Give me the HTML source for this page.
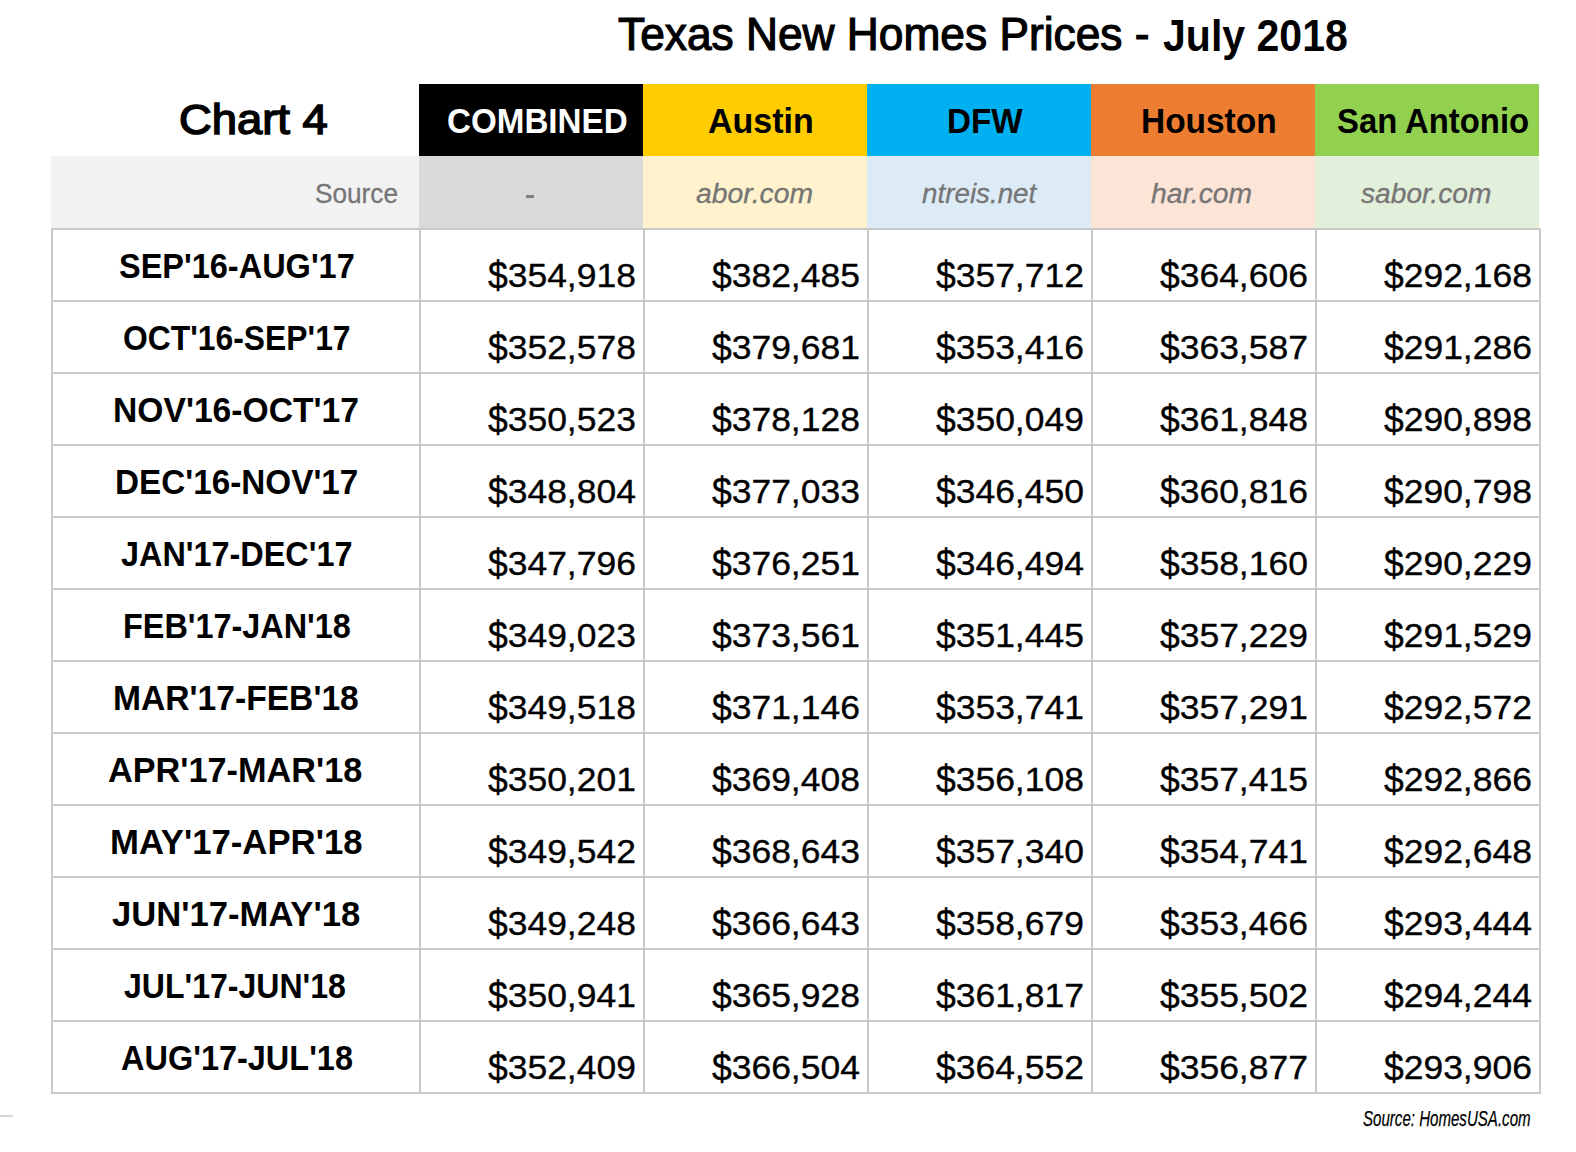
<!DOCTYPE html>
<html><head><meta charset="utf-8"><style>
html,body{margin:0;padding:0;background:#fff}
body{width:1576px;height:1152px;position:relative;overflow:hidden;font-family:"Liberation Sans",sans-serif}
.r{position:absolute}
.t{position:absolute;line-height:1;white-space:nowrap;transform-origin:0 0}
.d{display:inline-block;transform:translateY(1.1px) scaleY(1.148);transform-origin:50% 22px}
</style></head><body>
<div class="r" style="left:419px;top:84px;width:224px;height:72px;background:#000000"></div>
<div class="r" style="left:643px;top:84px;width:224px;height:72px;background:#ffcc00"></div>
<div class="r" style="left:867px;top:84px;width:224px;height:72px;background:#00b0f0"></div>
<div class="r" style="left:1091px;top:84px;width:224px;height:72px;background:#ed7d31"></div>
<div class="r" style="left:1315px;top:84px;width:224px;height:72px;background:#92d050"></div>
<div class="r" style="left:51px;top:156px;width:368px;height:72px;background:#f2f2f2"></div>
<div class="r" style="left:419px;top:156px;width:224px;height:72px;background:#d9d9d9"></div>
<div class="r" style="left:643px;top:156px;width:224px;height:72px;background:#fff2cc"></div>
<div class="r" style="left:867px;top:156px;width:224px;height:72px;background:#ddebf7"></div>
<div class="r" style="left:1091px;top:156px;width:224px;height:72px;background:#fce4d6"></div>
<div class="r" style="left:1315px;top:156px;width:224px;height:72px;background:#e2efda"></div>
<div class="r" style="left:0;top:1115px;width:13px;height:2px;background:#d6d6d6"></div>
<div class="r" style="left:51px;top:228px;width:1490px;height:2px;background:#c9c9c9"></div>
<div class="r" style="left:51px;top:300px;width:1490px;height:2px;background:#c9c9c9"></div>
<div class="r" style="left:51px;top:372px;width:1490px;height:2px;background:#c9c9c9"></div>
<div class="r" style="left:51px;top:444px;width:1490px;height:2px;background:#c9c9c9"></div>
<div class="r" style="left:51px;top:516px;width:1490px;height:2px;background:#c9c9c9"></div>
<div class="r" style="left:51px;top:588px;width:1490px;height:2px;background:#c9c9c9"></div>
<div class="r" style="left:51px;top:660px;width:1490px;height:2px;background:#c9c9c9"></div>
<div class="r" style="left:51px;top:732px;width:1490px;height:2px;background:#c9c9c9"></div>
<div class="r" style="left:51px;top:804px;width:1490px;height:2px;background:#c9c9c9"></div>
<div class="r" style="left:51px;top:876px;width:1490px;height:2px;background:#c9c9c9"></div>
<div class="r" style="left:51px;top:948px;width:1490px;height:2px;background:#c9c9c9"></div>
<div class="r" style="left:51px;top:1020px;width:1490px;height:2px;background:#c9c9c9"></div>
<div class="r" style="left:51px;top:1092px;width:1490px;height:2px;background:#c9c9c9"></div>
<div class="r" style="left:51px;top:228px;width:2px;height:866px;background:#c9c9c9"></div>
<div class="r" style="left:419px;top:228px;width:2px;height:866px;background:#c9c9c9"></div>
<div class="r" style="left:643px;top:228px;width:2px;height:866px;background:#c9c9c9"></div>
<div class="r" style="left:867px;top:228px;width:2px;height:866px;background:#c9c9c9"></div>
<div class="r" style="left:1091px;top:228px;width:2px;height:866px;background:#c9c9c9"></div>
<div class="r" style="left:1315px;top:228px;width:2px;height:866px;background:#c9c9c9"></div>
<div class="r" style="left:1539px;top:228px;width:2px;height:866px;background:#c9c9c9"></div>
<div class="t" style="left:617.71px;top:11.85px;font-size:45.439px;transform:scaleX(0.9749);color:#000;-webkit-text-stroke:1.20px #000">Texas New Homes Prices -</div>
<div class="t" style="left:1163.30px;top:13.65px;font-size:44.142px;transform:scaleX(0.9303);color:#000;font-weight:bold">July 2018</div>
<div class="t" style="left:179.21px;top:98.75px;font-size:42.494px;transform:scaleX(1.0679);color:#000;-webkit-text-stroke:1.50px #000">Chart 4</div>
<div class="t" style="left:446.78px;top:103.40px;font-size:35.000px;transform:scaleX(0.9477);color:#fff;font-weight:bold">COMBINED</div>
<div class="t" style="left:708.03px;top:103.40px;font-size:35.000px;transform:scaleX(0.9721);color:#000;font-weight:bold">Austin</div>
<div class="t" style="left:946.96px;top:103.40px;font-size:35.000px;transform:scaleX(0.9502);color:#000;font-weight:bold">DFW</div>
<div class="t" style="left:1140.85px;top:103.40px;font-size:35.000px;transform:scaleX(0.9556);color:#000;font-weight:bold">Houston</div>
<div class="t" style="left:1337.16px;top:103.40px;font-size:35.000px;transform:scaleX(0.9378);color:#000;font-weight:bold">San Antonio</div>
<div class="t" style="left:314.73px;top:181.40px;font-size:26.963px;transform:scaleX(0.9713);color:#767676;-webkit-text-stroke:0.30px #767676">Source</div>
<div class="t" style="left:695.50px;top:179.95px;font-size:28.136px;transform:scaleX(1.0087);color:#767676;font-style:italic;-webkit-text-stroke:0.30px #767676">abor.com</div>
<div class="t" style="left:921.55px;top:179.95px;font-size:28.136px;transform:scaleX(0.9880);color:#767676;font-style:italic;-webkit-text-stroke:0.30px #767676">ntreis.net</div>
<div class="t" style="left:1151.45px;top:179.95px;font-size:28.136px;transform:scaleX(1.0055);color:#767676;font-style:italic;-webkit-text-stroke:0.30px #767676">har.com</div>
<div class="t" style="left:1360.70px;top:179.95px;font-size:28.136px;transform:scaleX(1.0008);color:#767676;font-style:italic;-webkit-text-stroke:0.30px #767676">sabor.com</div>
<div class="t" style="left:1362.67px;top:1106.70px;font-size:22.796px;transform:scaleX(0.6618);color:#000;font-style:italic;-webkit-text-stroke:0.25px #000">Source: HomesUSA.com</div>
<div class="r" style="left:526px;top:195px;width:8px;height:3px;background:#7e7e7e"></div>
<div class="t" style="left:118.97px;top:248.55px;font-size:34.783px;transform:scaleX(0.9345);color:#000;font-weight:bold">SEP&#39;16-AUG&#39;17</div>
<div class="t" style="left:122.63px;top:320.55px;font-size:34.783px;transform:scaleX(0.9162);color:#000;font-weight:bold">OCT&#39;16-SEP&#39;17</div>
<div class="t" style="left:112.92px;top:392.55px;font-size:34.783px;transform:scaleX(0.9674);color:#000;font-weight:bold">NOV&#39;16-OCT&#39;17</div>
<div class="t" style="left:114.75px;top:464.55px;font-size:34.783px;transform:scaleX(0.9573);color:#000;font-weight:bold">DEC&#39;16-NOV&#39;17</div>
<div class="t" style="left:120.53px;top:536.55px;font-size:34.783px;transform:scaleX(0.9320);color:#000;font-weight:bold">JAN&#39;17-DEC&#39;17</div>
<div class="t" style="left:122.80px;top:608.55px;font-size:34.783px;transform:scaleX(0.9314);color:#000;font-weight:bold">FEB&#39;17-JAN&#39;18</div>
<div class="t" style="left:112.92px;top:680.55px;font-size:34.783px;transform:scaleX(0.9671);color:#000;font-weight:bold">MAR&#39;17-FEB&#39;18</div>
<div class="t" style="left:108.21px;top:752.55px;font-size:34.783px;transform:scaleX(0.9856);color:#000;font-weight:bold">APR&#39;17-MAR&#39;18</div>
<div class="t" style="left:110.15px;top:824.55px;font-size:34.783px;transform:scaleX(0.9984);color:#000;font-weight:bold">MAY&#39;17-APR&#39;18</div>
<div class="t" style="left:112.30px;top:896.55px;font-size:34.783px;transform:scaleX(0.9964);color:#000;font-weight:bold">JUN&#39;17-MAY&#39;18</div>
<div class="t" style="left:124.44px;top:968.55px;font-size:34.783px;transform:scaleX(0.9218);color:#000;font-weight:bold">JUL&#39;17-JUN&#39;18</div>
<div class="t" style="left:120.57px;top:1040.55px;font-size:34.783px;transform:scaleX(0.9340);color:#000;font-weight:bold">AUG&#39;17-JUL&#39;18</div>
<div class="t" style="left:488.04px;top:258.30px;font-size:34.141px;transform:scaleX(1.0387);color:#000;-webkit-text-stroke:0.35px #000"><span class="d">$</span>354,918</div>
<div class="t" style="left:712.04px;top:258.30px;font-size:34.141px;transform:scaleX(1.0387);color:#000;-webkit-text-stroke:0.35px #000"><span class="d">$</span>382,485</div>
<div class="t" style="left:936.04px;top:258.30px;font-size:34.141px;transform:scaleX(1.0387);color:#000;-webkit-text-stroke:0.35px #000"><span class="d">$</span>357,712</div>
<div class="t" style="left:1160.04px;top:258.30px;font-size:34.141px;transform:scaleX(1.0387);color:#000;-webkit-text-stroke:0.35px #000"><span class="d">$</span>364,606</div>
<div class="t" style="left:1384.04px;top:258.30px;font-size:34.141px;transform:scaleX(1.0387);color:#000;-webkit-text-stroke:0.35px #000"><span class="d">$</span>292,168</div>
<div class="t" style="left:488.04px;top:330.30px;font-size:34.141px;transform:scaleX(1.0387);color:#000;-webkit-text-stroke:0.35px #000"><span class="d">$</span>352,578</div>
<div class="t" style="left:712.04px;top:330.30px;font-size:34.141px;transform:scaleX(1.0387);color:#000;-webkit-text-stroke:0.35px #000"><span class="d">$</span>379,681</div>
<div class="t" style="left:936.04px;top:330.30px;font-size:34.141px;transform:scaleX(1.0387);color:#000;-webkit-text-stroke:0.35px #000"><span class="d">$</span>353,416</div>
<div class="t" style="left:1160.04px;top:330.30px;font-size:34.141px;transform:scaleX(1.0387);color:#000;-webkit-text-stroke:0.35px #000"><span class="d">$</span>363,587</div>
<div class="t" style="left:1384.04px;top:330.30px;font-size:34.141px;transform:scaleX(1.0387);color:#000;-webkit-text-stroke:0.35px #000"><span class="d">$</span>291,286</div>
<div class="t" style="left:488.04px;top:402.30px;font-size:34.141px;transform:scaleX(1.0387);color:#000;-webkit-text-stroke:0.35px #000"><span class="d">$</span>350,523</div>
<div class="t" style="left:712.04px;top:402.30px;font-size:34.141px;transform:scaleX(1.0387);color:#000;-webkit-text-stroke:0.35px #000"><span class="d">$</span>378,128</div>
<div class="t" style="left:936.04px;top:402.30px;font-size:34.141px;transform:scaleX(1.0387);color:#000;-webkit-text-stroke:0.35px #000"><span class="d">$</span>350,049</div>
<div class="t" style="left:1160.04px;top:402.30px;font-size:34.141px;transform:scaleX(1.0387);color:#000;-webkit-text-stroke:0.35px #000"><span class="d">$</span>361,848</div>
<div class="t" style="left:1384.04px;top:402.30px;font-size:34.141px;transform:scaleX(1.0387);color:#000;-webkit-text-stroke:0.35px #000"><span class="d">$</span>290,898</div>
<div class="t" style="left:488.04px;top:474.30px;font-size:34.141px;transform:scaleX(1.0387);color:#000;-webkit-text-stroke:0.35px #000"><span class="d">$</span>348,804</div>
<div class="t" style="left:712.04px;top:474.30px;font-size:34.141px;transform:scaleX(1.0387);color:#000;-webkit-text-stroke:0.35px #000"><span class="d">$</span>377,033</div>
<div class="t" style="left:936.04px;top:474.30px;font-size:34.141px;transform:scaleX(1.0387);color:#000;-webkit-text-stroke:0.35px #000"><span class="d">$</span>346,450</div>
<div class="t" style="left:1160.04px;top:474.30px;font-size:34.141px;transform:scaleX(1.0387);color:#000;-webkit-text-stroke:0.35px #000"><span class="d">$</span>360,816</div>
<div class="t" style="left:1384.04px;top:474.30px;font-size:34.141px;transform:scaleX(1.0387);color:#000;-webkit-text-stroke:0.35px #000"><span class="d">$</span>290,798</div>
<div class="t" style="left:488.04px;top:546.30px;font-size:34.141px;transform:scaleX(1.0387);color:#000;-webkit-text-stroke:0.35px #000"><span class="d">$</span>347,796</div>
<div class="t" style="left:712.04px;top:546.30px;font-size:34.141px;transform:scaleX(1.0387);color:#000;-webkit-text-stroke:0.35px #000"><span class="d">$</span>376,251</div>
<div class="t" style="left:936.04px;top:546.30px;font-size:34.141px;transform:scaleX(1.0387);color:#000;-webkit-text-stroke:0.35px #000"><span class="d">$</span>346,494</div>
<div class="t" style="left:1160.04px;top:546.30px;font-size:34.141px;transform:scaleX(1.0387);color:#000;-webkit-text-stroke:0.35px #000"><span class="d">$</span>358,160</div>
<div class="t" style="left:1384.04px;top:546.30px;font-size:34.141px;transform:scaleX(1.0387);color:#000;-webkit-text-stroke:0.35px #000"><span class="d">$</span>290,229</div>
<div class="t" style="left:488.04px;top:618.30px;font-size:34.141px;transform:scaleX(1.0387);color:#000;-webkit-text-stroke:0.35px #000"><span class="d">$</span>349,023</div>
<div class="t" style="left:712.04px;top:618.30px;font-size:34.141px;transform:scaleX(1.0387);color:#000;-webkit-text-stroke:0.35px #000"><span class="d">$</span>373,561</div>
<div class="t" style="left:936.04px;top:618.30px;font-size:34.141px;transform:scaleX(1.0387);color:#000;-webkit-text-stroke:0.35px #000"><span class="d">$</span>351,445</div>
<div class="t" style="left:1160.04px;top:618.30px;font-size:34.141px;transform:scaleX(1.0387);color:#000;-webkit-text-stroke:0.35px #000"><span class="d">$</span>357,229</div>
<div class="t" style="left:1384.04px;top:618.30px;font-size:34.141px;transform:scaleX(1.0387);color:#000;-webkit-text-stroke:0.35px #000"><span class="d">$</span>291,529</div>
<div class="t" style="left:488.04px;top:690.30px;font-size:34.141px;transform:scaleX(1.0387);color:#000;-webkit-text-stroke:0.35px #000"><span class="d">$</span>349,518</div>
<div class="t" style="left:712.04px;top:690.30px;font-size:34.141px;transform:scaleX(1.0387);color:#000;-webkit-text-stroke:0.35px #000"><span class="d">$</span>371,146</div>
<div class="t" style="left:936.04px;top:690.30px;font-size:34.141px;transform:scaleX(1.0387);color:#000;-webkit-text-stroke:0.35px #000"><span class="d">$</span>353,741</div>
<div class="t" style="left:1160.04px;top:690.30px;font-size:34.141px;transform:scaleX(1.0387);color:#000;-webkit-text-stroke:0.35px #000"><span class="d">$</span>357,291</div>
<div class="t" style="left:1384.04px;top:690.30px;font-size:34.141px;transform:scaleX(1.0387);color:#000;-webkit-text-stroke:0.35px #000"><span class="d">$</span>292,572</div>
<div class="t" style="left:488.04px;top:762.30px;font-size:34.141px;transform:scaleX(1.0387);color:#000;-webkit-text-stroke:0.35px #000"><span class="d">$</span>350,201</div>
<div class="t" style="left:712.04px;top:762.30px;font-size:34.141px;transform:scaleX(1.0387);color:#000;-webkit-text-stroke:0.35px #000"><span class="d">$</span>369,408</div>
<div class="t" style="left:936.04px;top:762.30px;font-size:34.141px;transform:scaleX(1.0387);color:#000;-webkit-text-stroke:0.35px #000"><span class="d">$</span>356,108</div>
<div class="t" style="left:1160.04px;top:762.30px;font-size:34.141px;transform:scaleX(1.0387);color:#000;-webkit-text-stroke:0.35px #000"><span class="d">$</span>357,415</div>
<div class="t" style="left:1384.04px;top:762.30px;font-size:34.141px;transform:scaleX(1.0387);color:#000;-webkit-text-stroke:0.35px #000"><span class="d">$</span>292,866</div>
<div class="t" style="left:488.04px;top:834.30px;font-size:34.141px;transform:scaleX(1.0387);color:#000;-webkit-text-stroke:0.35px #000"><span class="d">$</span>349,542</div>
<div class="t" style="left:712.04px;top:834.30px;font-size:34.141px;transform:scaleX(1.0387);color:#000;-webkit-text-stroke:0.35px #000"><span class="d">$</span>368,643</div>
<div class="t" style="left:936.04px;top:834.30px;font-size:34.141px;transform:scaleX(1.0387);color:#000;-webkit-text-stroke:0.35px #000"><span class="d">$</span>357,340</div>
<div class="t" style="left:1160.04px;top:834.30px;font-size:34.141px;transform:scaleX(1.0387);color:#000;-webkit-text-stroke:0.35px #000"><span class="d">$</span>354,741</div>
<div class="t" style="left:1384.04px;top:834.30px;font-size:34.141px;transform:scaleX(1.0387);color:#000;-webkit-text-stroke:0.35px #000"><span class="d">$</span>292,648</div>
<div class="t" style="left:488.04px;top:906.30px;font-size:34.141px;transform:scaleX(1.0387);color:#000;-webkit-text-stroke:0.35px #000"><span class="d">$</span>349,248</div>
<div class="t" style="left:712.04px;top:906.30px;font-size:34.141px;transform:scaleX(1.0387);color:#000;-webkit-text-stroke:0.35px #000"><span class="d">$</span>366,643</div>
<div class="t" style="left:936.04px;top:906.30px;font-size:34.141px;transform:scaleX(1.0387);color:#000;-webkit-text-stroke:0.35px #000"><span class="d">$</span>358,679</div>
<div class="t" style="left:1160.04px;top:906.30px;font-size:34.141px;transform:scaleX(1.0387);color:#000;-webkit-text-stroke:0.35px #000"><span class="d">$</span>353,466</div>
<div class="t" style="left:1384.04px;top:906.30px;font-size:34.141px;transform:scaleX(1.0387);color:#000;-webkit-text-stroke:0.35px #000"><span class="d">$</span>293,444</div>
<div class="t" style="left:488.04px;top:978.30px;font-size:34.141px;transform:scaleX(1.0387);color:#000;-webkit-text-stroke:0.35px #000"><span class="d">$</span>350,941</div>
<div class="t" style="left:712.04px;top:978.30px;font-size:34.141px;transform:scaleX(1.0387);color:#000;-webkit-text-stroke:0.35px #000"><span class="d">$</span>365,928</div>
<div class="t" style="left:936.04px;top:978.30px;font-size:34.141px;transform:scaleX(1.0387);color:#000;-webkit-text-stroke:0.35px #000"><span class="d">$</span>361,817</div>
<div class="t" style="left:1160.04px;top:978.30px;font-size:34.141px;transform:scaleX(1.0387);color:#000;-webkit-text-stroke:0.35px #000"><span class="d">$</span>355,502</div>
<div class="t" style="left:1384.04px;top:978.30px;font-size:34.141px;transform:scaleX(1.0387);color:#000;-webkit-text-stroke:0.35px #000"><span class="d">$</span>294,244</div>
<div class="t" style="left:488.04px;top:1050.30px;font-size:34.141px;transform:scaleX(1.0387);color:#000;-webkit-text-stroke:0.35px #000"><span class="d">$</span>352,409</div>
<div class="t" style="left:712.04px;top:1050.30px;font-size:34.141px;transform:scaleX(1.0387);color:#000;-webkit-text-stroke:0.35px #000"><span class="d">$</span>366,504</div>
<div class="t" style="left:936.04px;top:1050.30px;font-size:34.141px;transform:scaleX(1.0387);color:#000;-webkit-text-stroke:0.35px #000"><span class="d">$</span>364,552</div>
<div class="t" style="left:1160.04px;top:1050.30px;font-size:34.141px;transform:scaleX(1.0387);color:#000;-webkit-text-stroke:0.35px #000"><span class="d">$</span>356,877</div>
<div class="t" style="left:1384.04px;top:1050.30px;font-size:34.141px;transform:scaleX(1.0387);color:#000;-webkit-text-stroke:0.35px #000"><span class="d">$</span>293,906</div>
</body></html>
